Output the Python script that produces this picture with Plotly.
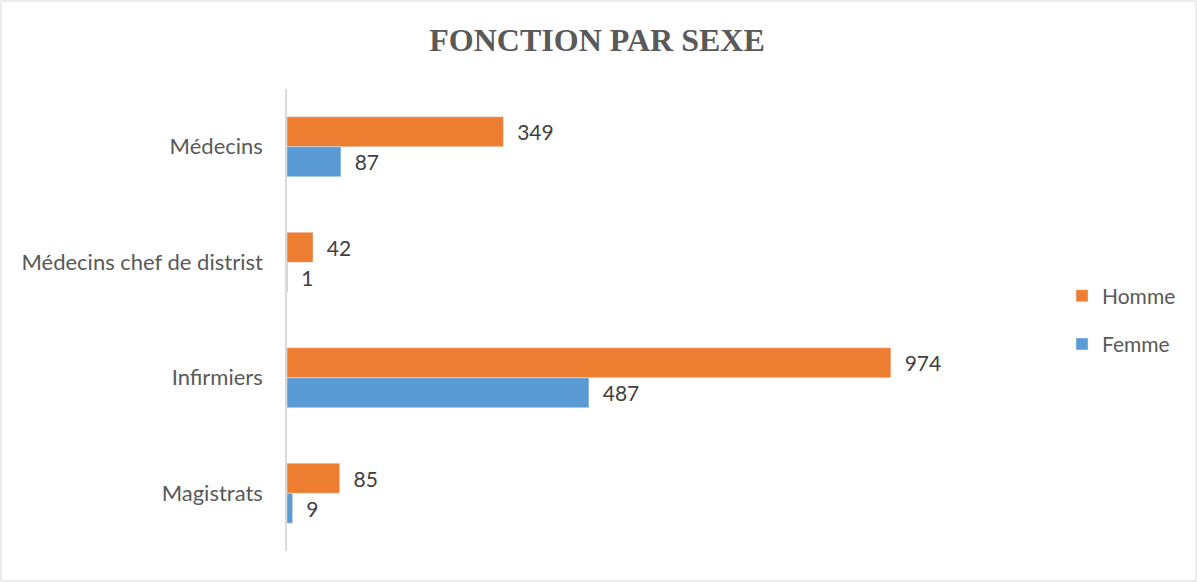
import plotly.graph_objects as go

categories = ["Médecins", "Médecins chef de distrist", "Infirmiers", "Magistrats"]
homme = [349, 42, 974, 85]
femme = [87, 1, 487, 9]

W, H = 1197, 582
L, R, T, B = 287, 290, 89, 31

fig = go.Figure()
fig.add_trace(go.Bar(
    y=categories, x=homme, orientation="h", name="Homme",
    marker=dict(color="#ED7D31"), legendgroup="h",
    text=homme, texttemplate="\u00a0\u00a0%{x}", textposition="outside",
    textfont=dict(family="Lato", size=21, color="#404040"), cliponaxis=False,
))
fig.add_trace(go.Bar(
    y=categories, x=femme, orientation="h", name="Femme",
    marker=dict(color="#5B9BD5"), legendgroup="f",
    text=femme, texttemplate="\u00a0\u00a0%{x}", textposition="outside",
    textfont=dict(family="Lato", size=21, color="#404040"), cliponaxis=False,
))

pw = W - L - R
ph = H - T - B
fig.add_shape(type="rect", xref="paper", yref="paper",
              x0=(1 - L) / pw, x1=(W - 1 - L) / pw,
              y0=-(B - 1) / ph, y1=1 + (T - 1) / ph,
              line=dict(color="#D9D9D9", width=1))

fig.update_layout(
    width=W, height=H,
    margin=dict(l=L, r=R, t=T, b=B, autoexpand=False),
    paper_bgcolor="white", plot_bgcolor="white",
    barmode="group", bargap=0.48, bargroupgap=0,
    title=dict(text="<b>FONCTION PAR SEXE</b>", x=0.5, xref="paper", xanchor="center",
               y=1 - 40 / H, yanchor="middle",
               font=dict(family="Liberation Serif", size=32, color="#595959")),
    xaxis=dict(range=[0, 1000], visible=False, showgrid=False, zeroline=False),
    yaxis=dict(autorange="reversed", showline=True, linecolor="#D9D9D9", linewidth=1.5,
               ticks="", showgrid=False, ticklabelstandoff=18,
               tickfont=dict(family="Lato", size=22, color="#595959")),
    legend=dict(x=1.25, y=0.5, xanchor="left", yanchor="middle",
                traceorder="grouped", tracegroupgap=18, itemwidth=30,
                font=dict(family="Lato", size=21, color="#595959")),
    showlegend=True,
)

fig.write_html("out.html", config={"displayModeBar": False},
               post_script="document.body.style.margin='0';")
